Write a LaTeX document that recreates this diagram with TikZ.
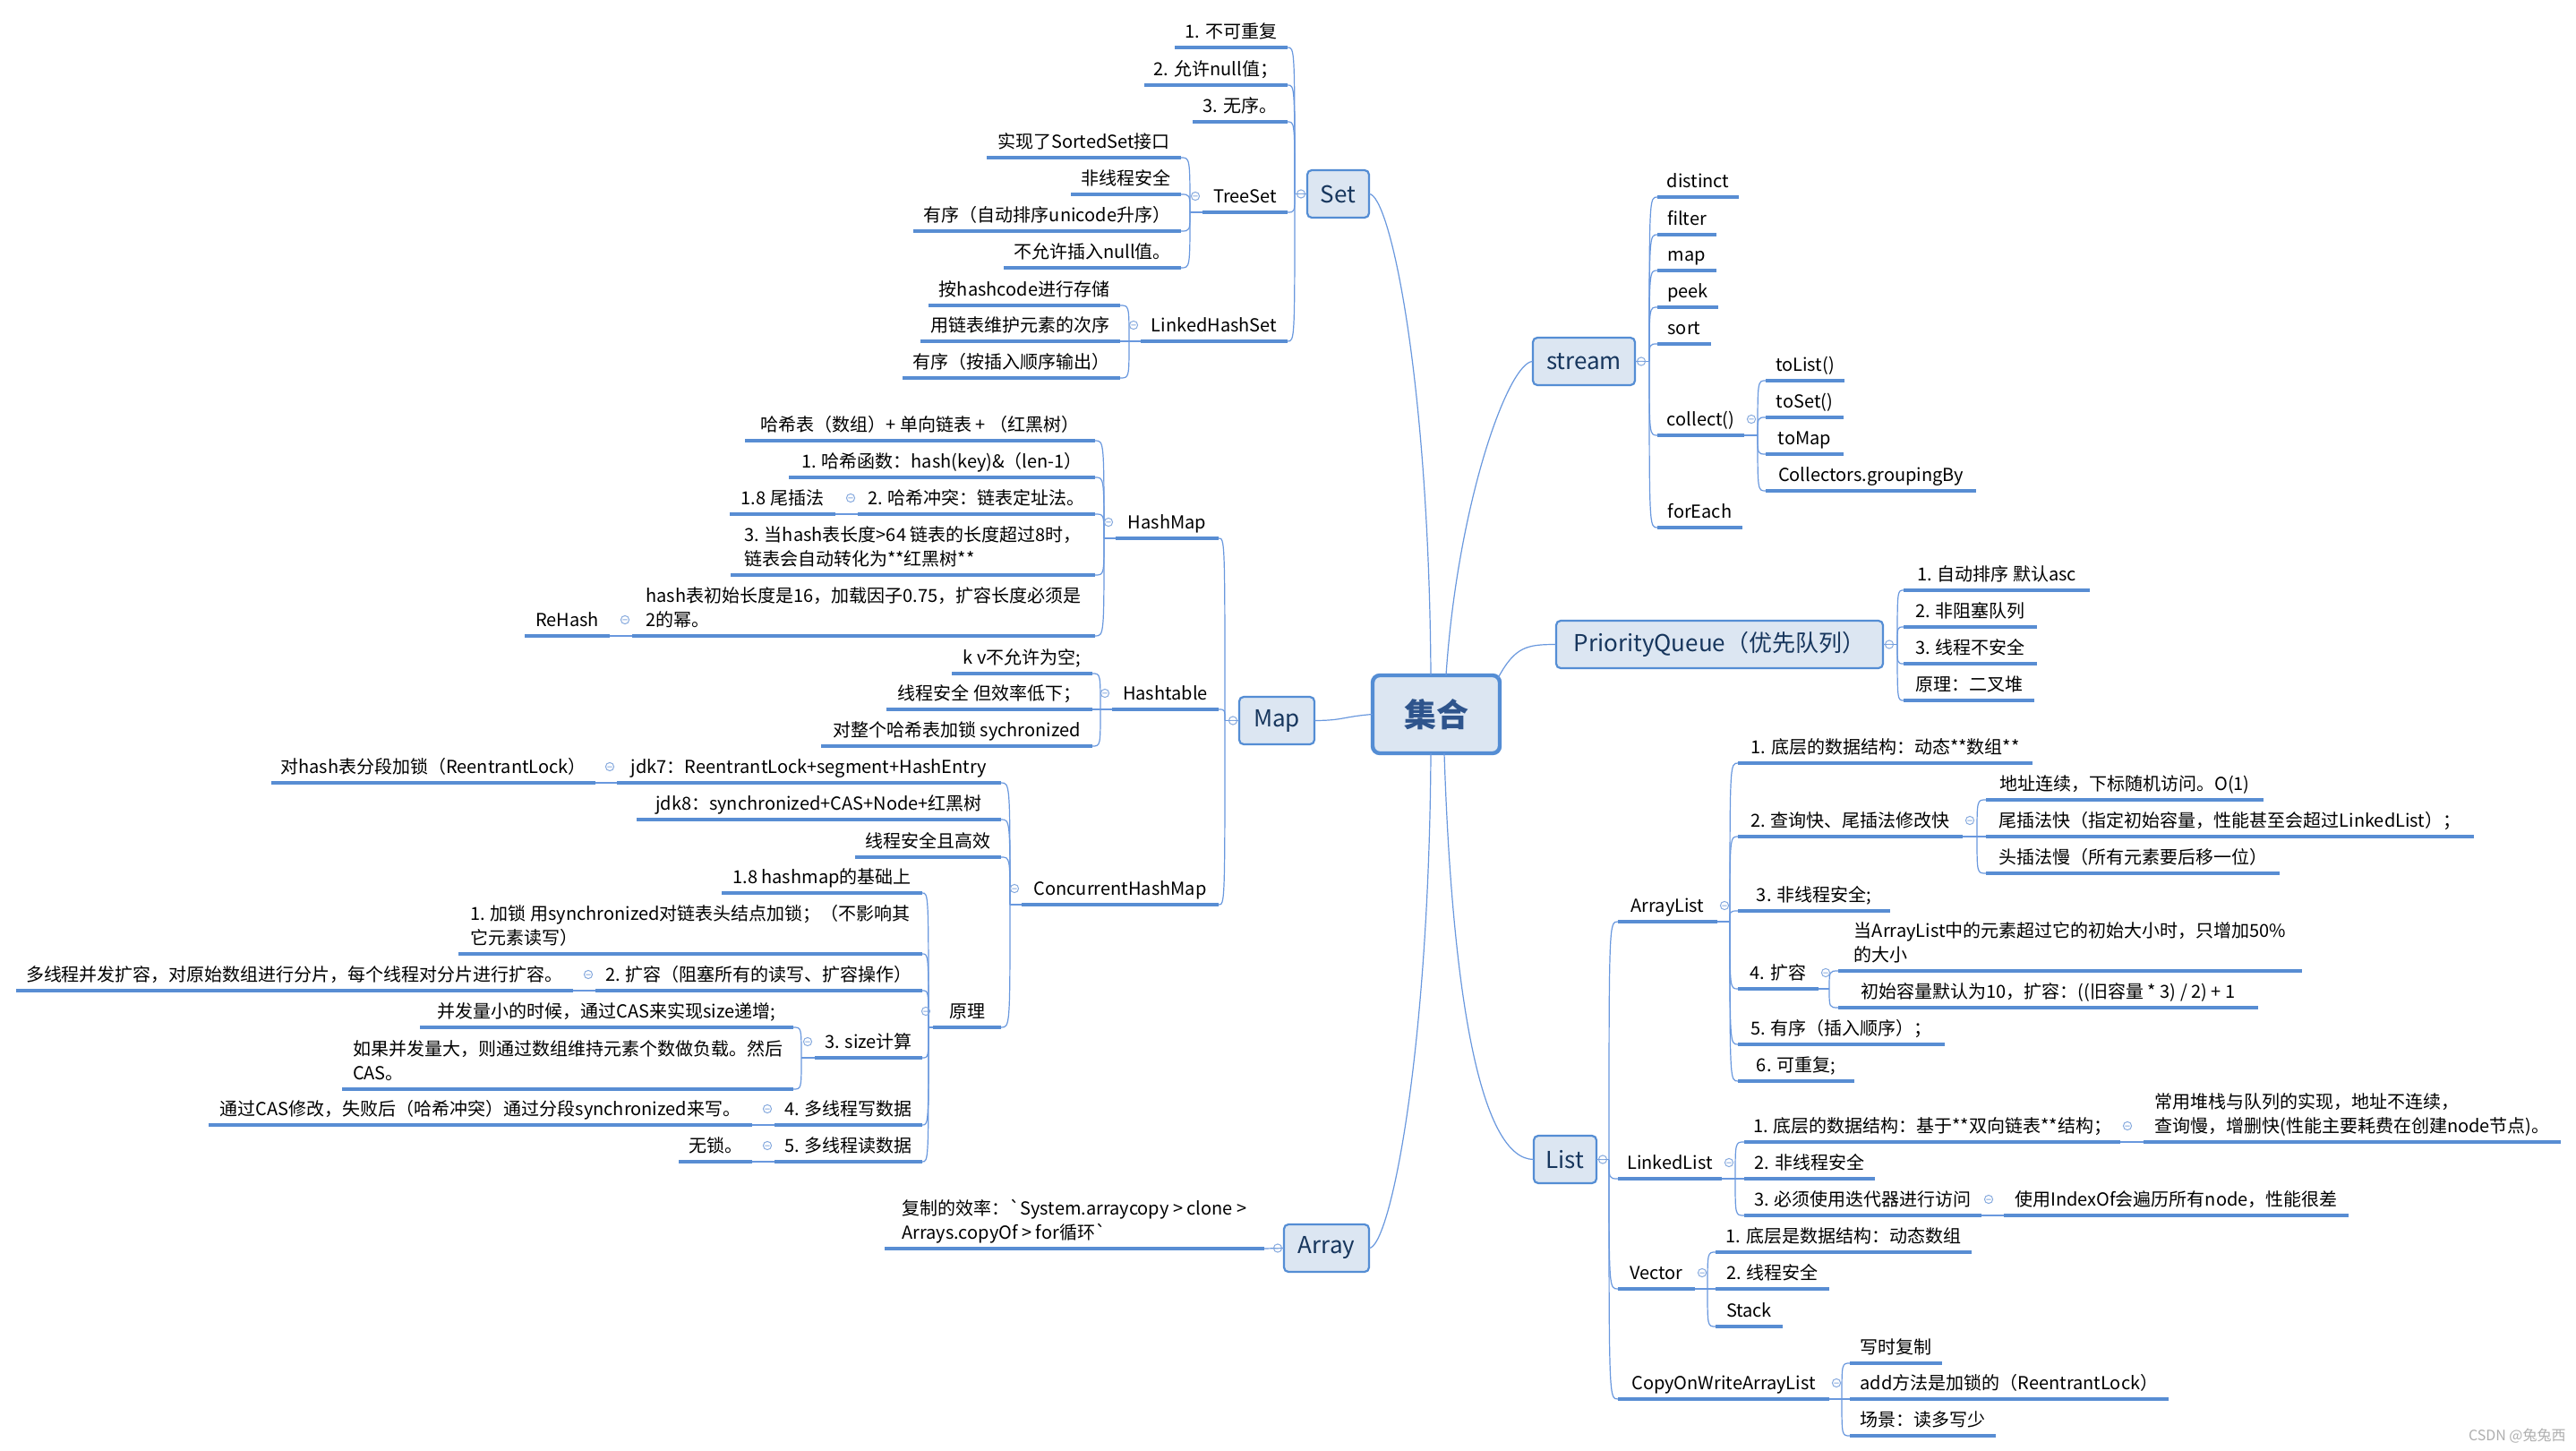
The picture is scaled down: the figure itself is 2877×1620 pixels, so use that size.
\documentclass[tikz,border=0pt]{standalone}
\usepackage{fontspec}
\setmainfont{Noto Sans CJK SC}
\usetikzlibrary{calc}
\definecolor{ulc}{RGB}{88,141,211}
\definecolor{cnc}{RGB}{105,152,222}
\definecolor{bdc}{RGB}{84,141,212}
\definecolor{fillc}{RGB}{220,230,242}
\definecolor{topc}{RGB}{23,54,93}
\definecolor{cenc}{RGB}{46,84,140}
\definecolor{ccc}{RGB}{135,170,222}
\definecolor{wmc}{RGB}{175,175,175}
\newcommand\twoln[2]{\begin{tabular}[b]{@{}l@{}}#1\\#2\end{tabular}}
\newcommand\brL[2]{\draw[conn] (#1) .. controls (#1 |- #2.south east) .. (#2.south east);}
\newcommand\brR[2]{\draw[conn] (#1) .. controls (#1 |- #2.south west) .. (#2.south west);}
\newcommand\ccl[1]{\draw[ccst] ($(#1.south west)+(-8,-18)$) circle[radius=2.3pt] +(-1.3pt,0) -- +(1.3pt,0);}
\newcommand\ccr[1]{\draw[ccst] ($(#1.south east)+(8,-18)$) circle[radius=2.3pt] +(-1.3pt,0) -- +(1.3pt,0);}
\newcommand\cbl[1]{\draw[ccst] ($(#1.west)+(-7,0)$) circle[radius=2.3pt] +(-1.3pt,0) -- +(1.3pt,0);}
\newcommand\cbr[1]{\draw[ccst] ($(#1.east)+(7,0)$) circle[radius=2.3pt] +(-1.3pt,0) -- +(1.3pt,0);}
\begin{document}
\begin{tikzpicture}[x=0.5pt,y=-0.5pt,
  leafbase/.style={font=\fontsize{10}{13.5}\selectfont, inner xsep=5pt, inner ysep=3.2pt, text height=8pt, text depth=2pt, outer sep=0pt},
  ulline/.style={draw=ulc, line width=1.6pt},
  ulnode/.style={leafbase, append after command={(\tikzlastnode.south west) edge[ulline] (\tikzlastnode.south east)}},
  lf/.style={ulnode, anchor=south east},
  rt/.style={ulnode, anchor=south west},
  mw/.style={minimum width=#1*0.5pt},
  bw/.style={minimum width=#1*0.5pt},
  bh/.style={minimum height=#1*0.5pt},
  conn/.style={draw=cnc, line width=0.6pt},
  ccst/.style={draw=ccc, line width=0.5pt},
  topic/.style={draw=bdc, fill=fillc, line width=1.1pt, rounded corners=2.5pt, font=\fontsize{13}{15}\selectfont, text=topc, inner sep=0pt, outer sep=0pt},
]
\useasboundingbox[fill=white] (0,0) rectangle (2877,1620);

% ---------- centre ----------
\node[topic, line width=2.2pt, rounded corners=4pt, font=\fontsize{18}{20}\selectfont\bfseries, text=cenc, bw=142, bh=87] (jh) at (1604,797.5) {集合};

% ---------- Set ----------
\node[topic, bw=69, bh=53] (set) at (1494.5,216.5) {Set};
\node[lf, mw=126] (s1) at (1438,53) {1. 不可重复};
\node[lf, mw=160] (s2) at (1438,95) {2. 允许null值；};
\node[lf, mw=106] (s3) at (1438,136) {3. 无序。};
\node[lf, mw=95] (ts) at (1438,237) {TreeSet};
\node[lf, mw=217] (ts1) at (1319,176) {实现了SortedSet接口};
\node[lf, mw=123] (ts2) at (1319,217) {非线程安全};
\node[lf, mw=299] (ts3) at (1319,258) {有序（自动排序unicode升序）};
\node[lf, mw=198] (ts4) at (1319,299) {不允许插入null值。};
\node[lf, mw=164] (lh) at (1438,381) {LinkedHashSet};
\node[lf, mw=214] (lh1) at (1251,341) {按hashcode进行存储};
\node[lf, mw=223] (lh2) at (1251,381) {用链表维护元素的次序};
\node[lf, mw=243] (lh3) at (1251,422) {有序（按插入顺序输出）};

% ---------- Map ----------
\node[topic, bw=84, bh=53] (map) at (1426,804.5) {Map};
\node[lf, mw=115] (hm) at (1361,601) {HashMap};
\node[lf, mw=391] (hm1) at (1223,492) {哈希表（数组）+ 单向链表 + （红黑树）};
\node[lf, mw=342] (hm2) at (1223,533) {1. 哈希函数：hash(key)\&（len-1）};
\node[lf, mw=265] (hm3) at (1223,574) {2. 哈希冲突：链表定址法。};
\node[lf, mw=118] (hm3a) at (933,574) {1.8 尾插法};
\node[lf, mw=407] (hm4) at (1223,642) {\twoln{3. 当hash表长度>64 链表的长度超过8时，}{链表会自动转化为**红黑树**}};
\node[lf, mw=517] (hm5) at (1223,710) {\twoln{hash表初始长度是16，加载因子0.75，扩容长度必须是}{2的幂。}};
\node[lf, mw=95] (rh) at (681,710) {ReHash};
\node[lf, mw=119] (ht) at (1361,792) {Hashtable};
\node[lf, mw=157] (ht1) at (1220,752) {k v不允许为空;};
\node[lf, mw=230] (ht2) at (1220,792) {线程安全 但效率低下；};
\node[lf, mw=303] (ht3) at (1220,833) {对整个哈希表加锁 sychronized};
\node[lf, mw=220] (ch) at (1361,1010) {ConcurrentHashMap};
\node[lf, mw=429] (ch1) at (1118,874) {jdk7：ReentrantLock+segment+HashEntry};
\node[lf, mw=362] (ch1a) at (665,874) {对hash表分段加锁（ReentrantLock）};
\node[lf, mw=407] (ch2) at (1118,915) {jdk8：synchronized+CAS+Node+红黑树};
\node[lf, mw=163] (ch3) at (1118,957) {线程安全且高效};
\node[lf, mw=76] (yl) at (1118,1147) {原理};
\node[lf, mw=224] (y1) at (1030,997) {1.8 hashmap的基础上};
\node[lf, mw=518] (y2) at (1030,1065) {\twoln{1. 加锁 用synchronized对链表头结点加锁；（不影响其}{它元素读写）}};
\node[lf, mw=365] (y3) at (1030,1106) {2. 扩容（阻塞所有的读写、扩容操作）};
\node[lf, mw=622] (y3a) at (640,1106) {多线程并发扩容，对原始数组进行分片，每个线程对分片进行扩容。};
\node[lf, mw=120] (y4) at (1030,1181) {3. size计算};
\node[lf, mw=417] (y4a) at (886,1147) {并发量小的时候，通过CAS来实现size递增;};
\node[lf, mw=504] (y4b) at (886,1216) {\twoln{如果并发量大，则通过数组维持元素个数做负载。然后}{CAS。}};
\node[lf, mw=165] (y5) at (1030,1256) {4. 多线程写数据};
\node[lf, mw=607] (y5a) at (840,1256) {通过CAS修改，失败后（哈希冲突）通过分段synchronized来写。};
\node[lf, mw=165] (y6) at (1030,1297) {5. 多线程读数据};
\node[lf, mw=82] (y6a) at (840,1297) {无锁。};

% ---------- Array ----------
\node[topic, bw=95, bh=53] (arr) at (1481.5,1393.5) {Array};
\node[lf, mw=424] (ar1) at (1412,1394) {\twoln{复制的效率：\textasciigrave System.arraycopy > clone >}{Arrays.copyOf > for循环\textasciigrave}};

% ---------- stream ----------
\node[topic, bw=114, bh=53] (stream) at (1769,403.5) {stream};
\node[rt, mw=91] (st1) at (1851,220) {distinct};
\node[rt, mw=66] (st2) at (1851,262) {filter};
\node[rt, mw=66] (st3) at (1851,302) {map};
\node[rt, mw=68] (st4) at (1851,343) {peek};
\node[rt, mw=60] (st5) at (1851,384) {sort};
\node[rt, mw=97] (st6) at (1851,486) {collect()};
\node[rt, mw=95] (st7) at (1851,589) {forEach};
\node[rt, mw=88] (co1) at (1972,425) {toList()};
\node[rt, mw=87] (co2) at (1972,466) {toSet()};
\node[rt, mw=87] (co3) at (1972,507) {toMap};
\node[rt, mw=235] (co4) at (1972,548) {Collectors.groupingBy};

% ---------- PriorityQueue ----------
\node[topic, bw=365, bh=53] (pq) at (1920.5,719.5) {PriorityQueue（优先队列）};
\node[rt, mw=208] (pq1) at (2126,659) {1. 自动排序 默认asc};
\node[rt, mw=149] (pq2) at (2126,700) {2. 非阻塞队列};
\node[rt, mw=149] (pq3) at (2126,741) {3. 线程不安全};
\node[rt, mw=146] (pq4) at (2126,782) {原理：二叉堆};

% ---------- List ----------
\node[topic, bw=70, bh=53] (list) at (1748,1294.5) {List};
\node[rt, mw=111] (al) at (1807,1029) {ArrayList};
\node[rt, mw=329] (al1) at (1941,852) {1. 底层的数据结构：动态**数组**};
\node[rt, mw=251] (al2) at (1941,934) {2. 查询快、尾插法修改快};
\node[rt, mw=310] (al2a) at (2218,893) {地址连续，下标随机访问。O(1)};
\node[rt, mw=545] (al2b) at (2218,934) {尾插法快（指定初始容量，性能甚至会超过LinkedList）；};
\node[rt, mw=328] (al2c) at (2218,975) {头插法慢（所有元素要后移一位）};
\node[rt, mw=170] (al3) at (1941,1017) {3. 非线程安全;};
\node[rt, mw=90] (al4) at (1941,1104) {4. 扩容};
\node[rt, mw=518] (al4a) at (2053,1084) {\twoln{当ArrayList中的元素超过它的初始大小时，只增加50\%}{的大小}};
\node[rt, mw=469] (al4b) at (2053,1125) {初始容量默认为10，扩容：((旧容量 * 3) / 2) + 1};
\node[rt, mw=231] (al5) at (1941,1166) {5. 有序（插入顺序）；};
\node[rt, mw=130] (al6) at (1941,1207) {6. 可重复;};
\node[rt, mw=116] (ll) at (1807,1316) {LinkedList};
\node[rt, mw=420] (ll1) at (1948,1275) {1. 底层的数据结构：基于**双向链表**结构；};
\node[rt, mw=466] (ll1a) at (2394,1275) {\twoln{常用堆栈与队列的实现，地址不连续，}{查询慢，增删快(性能主要耗费在创建node节点)。}};
\node[rt, mw=146] (ll2) at (1948,1316) {2. 非线程安全};
\node[rt, mw=265] (ll3) at (1948,1357) {3. 必须使用迭代器进行访问};
\node[rt, mw=385] (ll3a) at (2238,1357) {使用IndexOf会遍历所有node，性能很差};
\node[rt, mw=86] (ve) at (1807,1439) {Vector};
\node[rt, mw=286] (v1) at (1916,1398) {1. 底层是数据结构：动态数组};
\node[rt, mw=127] (v2) at (1916,1439) {2. 线程安全};
\node[rt, mw=75] (v3) at (1916,1481) {Stack};
\node[rt, mw=236] (cw) at (1807,1562) {CopyOnWriteArrayList};
\node[rt, mw=103] (cw1) at (2066,1522) {写时复制};
\node[rt, mw=356] (cw2) at (2066,1562) {add方法是加锁的（ReentrantLock）};
\node[rt, mw=163] (cw3) at (2066,1603) {场景：读多写少};

\node[font=\fontsize{8}{9}\selectfont, text=wmc, anchor=east, inner sep=0pt] (wm) at (2866,1603) {CSDN @兔兔西};

% ---------- fork points ----------
\coordinate (setF) at (1446,216.5);
\coordinate (tsF) at (1329,237);
\coordinate (lhF) at (1261,381);
\coordinate (mapF) at (1368,804.5);
\coordinate (hmF) at (1233,601);
\coordinate (htF) at (1229,792);
\coordinate (chF) at (1128,1010);
\coordinate (ylF) at (1037,1147);
\coordinate (szF) at (895,1181);
\coordinate (stF) at (1842,403.5);
\coordinate (coF) at (1963,486);
\coordinate (pqF) at (2119,719.5);
\coordinate (liF) at (1797,1294.5);
\coordinate (alF) at (1932,1029);
\coordinate (al2F) at (2208,934);
\coordinate (al4F) at (2043,1104);
\coordinate (llF) at (1938,1316);
\coordinate (veF) at (1907,1439);
\coordinate (cwF) at (2057,1562);

% ---------- main curves ----------
\draw[conn] ($(jh.north)+(-6,0)$) .. controls (1596,420) and (1552,216.5) .. (set.east);
\draw[conn] ($(jh.north)+(11,0)$) .. controls (1628,560) and (1685,403.5) .. (stream.west);
\draw[conn] ($(jh.north east)+(-2,3)$) .. controls (1692,722) and (1705,719.5) .. (pq.west);
\draw[conn] (jh.west) .. controls (1500,800) and (1500,804.5) .. (map.east);
\draw[conn] ($(jh.south)+(-6,0)$) .. controls (1596,1180) and (1552,1393.5) .. (arr.east);
\draw[conn] ($(jh.south)+(9,0)$) .. controls (1622,1120) and (1655,1294.5) .. (list.west);

% ---------- Set branches ----------
\draw[conn] (set.west) -- (setF);
\brL{setF}{s1}\brL{setF}{s2}\brL{setF}{s3}\brL{setF}{ts}\brL{setF}{lh}
\draw[conn] (ts.south west) -- (tsF);
\brL{tsF}{ts1}\brL{tsF}{ts2}\brL{tsF}{ts3}\brL{tsF}{ts4}
\draw[conn] (lh.south west) -- (lhF);
\brL{lhF}{lh1}\brL{lhF}{lh2}\brL{lhF}{lh3}

% ---------- Map branches ----------
\draw[conn] (map.west) -- (mapF);
\brL{mapF}{hm}\brL{mapF}{ht}\brL{mapF}{ch}
\draw[conn] (hm.south west) -- (hmF);
\brL{hmF}{hm1}\brL{hmF}{hm2}\brL{hmF}{hm3}\brL{hmF}{hm4}\brL{hmF}{hm5}
\draw[conn] (hm3.south west) -- (hm3a.south east);
\draw[conn] (hm5.south west) -- (rh.south east);
\draw[conn] (ht.south west) -- (htF);
\brL{htF}{ht1}\brL{htF}{ht2}\brL{htF}{ht3}
\draw[conn] (ch.south west) -- (chF);
\brL{chF}{ch1}\brL{chF}{ch2}\brL{chF}{ch3}\brL{chF}{yl}
\draw[conn] (ch1.south west) -- (ch1a.south east);
\draw[conn] (yl.south west) -- (ylF);
\brL{ylF}{y1}\brL{ylF}{y2}\brL{ylF}{y3}\brL{ylF}{y4}\brL{ylF}{y5}\brL{ylF}{y6}
\draw[conn] (y3.south west) -- (y3a.south east);
\draw[conn] (y4.south west) -- (szF);
\brL{szF}{y4a}\brL{szF}{y4b}
\draw[conn] (y5.south west) -- (y5a.south east);
\draw[conn] (y6.south west) -- (y6a.south east);

% ---------- Array ----------
\draw[conn] (arr.west) -- (ar1.south east);

% ---------- stream ----------
\draw[conn] (stream.east) -- (stF);
\brR{stF}{st1}\brR{stF}{st2}\brR{stF}{st3}\brR{stF}{st4}\brR{stF}{st5}\brR{stF}{st6}\brR{stF}{st7}
\draw[conn] (st6.south east) -- (coF);
\brR{coF}{co1}\brR{coF}{co2}\brR{coF}{co3}\brR{coF}{co4}

% ---------- PQ ----------
\draw[conn] (pq.east) -- (pqF);
\brR{pqF}{pq1}\brR{pqF}{pq2}\brR{pqF}{pq3}\brR{pqF}{pq4}

% ---------- List ----------
\draw[conn] (list.east) -- (liF);
\brR{liF}{al}\brR{liF}{ll}\brR{liF}{ve}\brR{liF}{cw}
\draw[conn] (al.south east) -- (alF);
\brR{alF}{al1}\brR{alF}{al2}\brR{alF}{al3}\brR{alF}{al4}\brR{alF}{al5}\brR{alF}{al6}
\draw[conn] (al2.south east) -- (al2F);
\brR{al2F}{al2a}\brR{al2F}{al2b}\brR{al2F}{al2c}
\draw[conn] (al4.south east) -- (al4F);
\brR{al4F}{al4a}\brR{al4F}{al4b}
\draw[conn] (ll.south east) -- (llF);
\brR{llF}{ll1}\brR{llF}{ll2}\brR{llF}{ll3}
\draw[conn] (ll1.south east) -- (ll1a.south west);
\draw[conn] (ll3.south east) -- (ll3a.south west);
\draw[conn] (ve.south east) -- (veF);
\brR{veF}{v1}\brR{veF}{v2}\brR{veF}{v3}
\draw[conn] (cw.south east) -- (cwF);
\brR{cwF}{cw1}\brR{cwF}{cw2}\brR{cwF}{cw3}

% ---------- collapse markers ----------
\cbl{set}\cbl{map}\cbl{arr}\cbr{stream}\cbr{pq}\cbr{list}
\ccl{ts}\ccl{lh}\ccl{hm}\ccl{hm3}\ccl{hm5}\ccl{ht}\ccl{ch}\ccl{ch1}\ccl{yl}\ccl{y3}\ccl{y4}\ccl{y5}\ccl{y6}
\ccr{st6}\ccr{al}\ccr{al2}\ccr{al4}\ccr{ll}\ccr{ll1}\ccr{ll3}\ccr{ve}\ccr{cw}
\end{tikzpicture}
\end{document}
